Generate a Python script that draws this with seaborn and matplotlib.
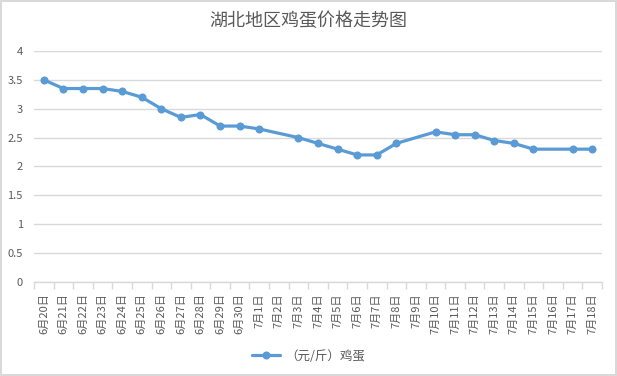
import numpy as np
import pandas as pd
import seaborn as sns
import matplotlib.pyplot as plt
from matplotlib.lines import Line2D

# 日期和价格（元/斤），空缺的日期用 NaN
dates = ['6月20日', '6月21日', '6月22日', '6月23日', '6月24日', '6月25日', '6月26日',
         '6月27日', '6月28日', '6月29日', '6月30日', '7月1日', '7月2日', '7月3日',
         '7月4日', '7月5日', '7月6日', '7月7日', '7月8日', '7月9日', '7月10日',
         '7月11日', '7月12日', '7月13日', '7月14日', '7月15日', '7月16日', '7月17日',
         '7月18日']
prices = [3.5, 3.35, 3.35, 3.35, 3.3, 3.2, 3.0, 2.85, 2.9, 2.7, 2.7, 2.65, np.nan, 2.5,
          2.4, 2.3, 2.2, 2.2, 2.4, np.nan, 2.6, 2.55, 2.55, 2.45, 2.4, 2.3, np.nan, 2.3,
          2.3]
y_ticks = [0, 0.5, 1, 1.5, 2, 2.5, 3, 3.5, 4]
y_tick_labels = ['0', '0.5', '1', '1.5', '2', '2.5', '3', '3.5', '4']
series_name = '（元/斤）鸡蛋'
title = '湖北地区鸡蛋价格走势图'

df = pd.DataFrame({'pos': np.arange(len(dates)), 'price': prices})

sns.set_theme(style='white')
plt.rcParams['font.family'] = ['Noto Sans CJK SC', 'DejaVu Sans']

blue = '#5B9BD5'
grey_text = '#595959'
grid_col = '#d9d9d9'

fig = plt.figure(figsize=(6.17, 3.76), dpi=100)
ax = fig.add_axes([0.0551, 0.25, 0.9206, 0.6144])

# gaps are connected across missing days, like the original chart
sns.lineplot(data=df.dropna(), x='pos', y='price', ax=ax, color=blue, linewidth=2.3,
             marker='o', markersize=5.8, markeredgecolor=blue, markeredgewidth=0)

ax.set_xlim(-0.5, len(dates) - 0.5)
ax.set_ylim(0, 4)
ax.set_yticks(y_ticks)
ax.set_yticklabels(y_tick_labels)
ax.set_xticks(np.arange(len(dates)))
ax.set_xticklabels(dates, rotation=90, va='top', ha='center')
ax.set_xticks(np.arange(len(dates) + 1) - 0.5, minor=True)
ax.tick_params(axis='x', which='major', length=0, pad=8, labelsize=8, colors=grey_text)
ax.tick_params(axis='x', which='minor', length=5, width=1, color=grid_col, bottom=True)
ax.tick_params(axis='y', length=0, pad=8, labelsize=8, colors=grey_text)
ax.set_xlabel('')
ax.set_ylabel('')

ax.grid(axis='y', color=grid_col, linewidth=1)
ax.set_axisbelow(True)
for s in ['left', 'right', 'top']:
    ax.spines[s].set_visible(False)
ax.spines['bottom'].set_color(grid_col)
ax.spines['bottom'].set_linewidth(1)

fig.text(0.5, 0.944, title, ha='center', va='center', fontsize=13, color=grey_text)

handle = Line2D([], [], color=blue, linewidth=2.3, marker='o', markersize=5.8,
                markeredgewidth=0)
fig.legend([handle], [series_name], loc='center', bbox_to_anchor=(0.5, 0.053),
           frameon=False, fontsize=9, labelcolor=grey_text, handlelength=2.2,
           handletextpad=0.4)

fig.patch.set_edgecolor(grid_col)
fig.patch.set_linewidth(1.5)
fig.savefig('out.png', dpi=100, edgecolor=grid_col)
